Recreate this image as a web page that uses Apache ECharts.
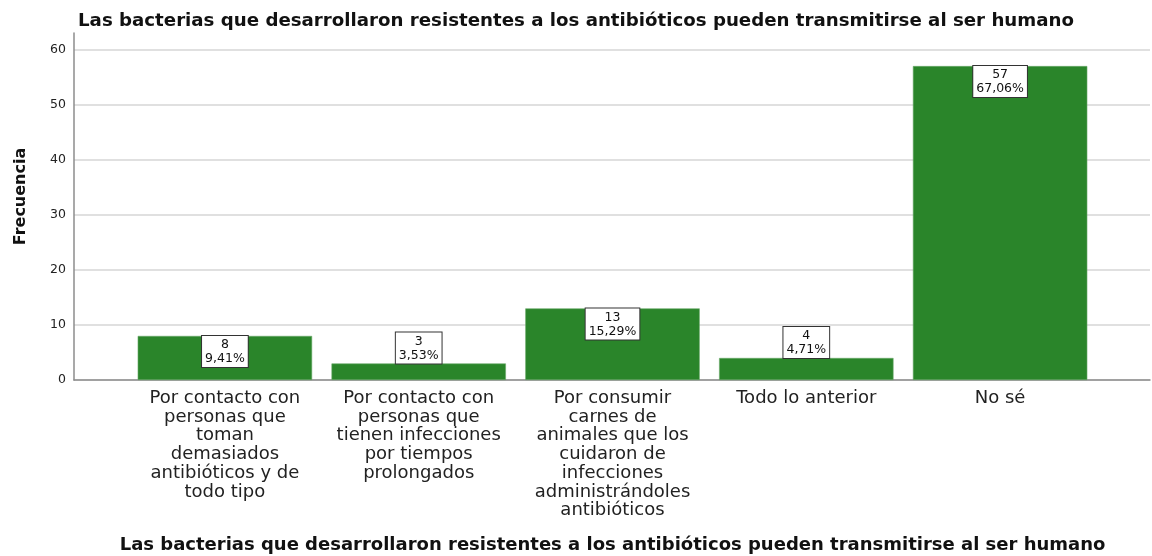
<!DOCTYPE html>
<html>
<head>
<meta charset="utf-8">
<script src="https://cdn.jsdelivr.net/npm/echarts@6/dist/echarts.min.js"></script>
<style>
  html, body { margin: 0; padding: 0; background: #fff; }
  #chart { width: 1152px; height: 556px; }
</style>
</head>
<body>
<div id="chart"></div>
<script>
var titleText = 'Las bacterias que desarrollaron resistentes a los antibióticos pueden transmitirse al ser humano';
var categories = [
  'Por contacto con\npersonas que\ntoman\ndemasiados\nantibióticos y de\ntodo tipo',
  'Por contacto con\npersonas que\ntienen infecciones\npor tiempos\nprolongados',
  'Por consumir\ncarnes de\nanimales que los\ncuidaron de\ninfecciones\nadministrándoles\nantibióticos',
  'Todo lo anterior',
  'No sé'
];
var counts = [8, 3, 13, 4, 57];
var percents = ['9,41%', '3,53%', '15,29%', '4,71%', '67,06%'];
var yTicks = [0, 10, 20, 30, 40, 50, 60];

var font = '"DejaVu Sans", Verdana, sans-serif';
var green = '#2a852a';

// short bars get the box above, tall ones inside
var barData = counts.map(function (v, i) {
  return {
    value: v,
    label: { position: v < 5 ? 'top' : 'insideTop' }
  };
});

var chart = echarts.init(document.getElementById('chart'));

var option = {
  animation: false,
  backgroundColor: '#fff',
  title: {
    text: titleText,
    left: 'center',
    top: 7,
    textStyle: { fontFamily: font, fontSize: 18.2, fontWeight: 'bold', color: '#111' }
  },
  grid: [
    { left: 74, right: 2, top: 33, bottom: 176, outerBoundsMode: 'none' },
    { left: 128, right: 55, top: 33, bottom: 176, outerBoundsMode: 'none' }
  ],
  xAxis: [{
    gridIndex: 0,
    type: 'value',
    min: 0,
    max: 1,
    axisLine: { show: true, onZero: false, lineStyle: { color: '#8c8c8c', width: 1.5 } },
    axisTick: { show: false },
    axisLabel: { show: false },
    splitLine: { show: false }
  }, {
    gridIndex: 1,
    type: 'category',
    data: categories,
    axisLine: { show: false },
    axisTick: { show: false },
    axisLabel: {
      interval: 0,
      margin: 9,
      fontFamily: font,
      fontSize: 18,
      lineHeight: 18.7,
      color: '#222'
    },
    name: titleText,
    nameLocation: 'middle',
    nameGap: 156,
    nameTextStyle: { fontFamily: font, fontSize: 18, fontWeight: 'bold', color: '#111' }
  }],
  yAxis: [{
    gridIndex: 0,
    type: 'value',
    min: 0,
    max: 63,
    interval: 10,
    name: 'Frecuencia',
    nameLocation: 'middle',
    nameGap: 45,
    nameTextStyle: {
      fontFamily: font, fontSize: 16, fontWeight: 'bold', color: '#111',
      padding: [0, 0, 0, 20]
    },
    axisLine: { show: true, lineStyle: { color: '#8c8c8c', width: 1.5 } },
    axisTick: { show: false },
    axisLabel: {
      showMaxLabel: false,
      margin: 8,
      fontFamily: font,
      fontSize: 12.5,
      color: '#222',
      formatter: function (v) { return yTicks.indexOf(v) >= 0 ? String(v) : ''; }
    },
    splitLine: {
      show: true,
      lineStyle: {
        color: ['#d6d6d6', '#d6d6d6', '#d6d6d6', '#d6d6d6', '#d6d6d6', '#d6d6d6', '#d6d6d6', 'rgba(0,0,0,0)'],
        width: 1.5
      }
    }
  }, {
    gridIndex: 1,
    type: 'value',
    min: 0,
    max: 63,
    show: false
  }],
  series: [{
    type: 'bar',
    xAxisIndex: 1,
    yAxisIndex: 1,
    data: barData,
    barCategoryGap: '10%',
    itemStyle: { color: green, borderColor: '#6aaa6a', borderWidth: 0.6 },
    label: {
      show: true,
      distance: 0,
      formatter: function (p) { return p.value + '\n' + percents[p.dataIndex]; },
      fontFamily: font,
      fontSize: 12.5,
      lineHeight: 14,
      color: '#111',
      backgroundColor: '#fff',
      borderColor: '#333',
      borderWidth: 1,
      padding: [2, 3, 1, 3],
      align: 'center'
    }
  }]
};

chart.setOption(option);
</script>
</body>
</html>
